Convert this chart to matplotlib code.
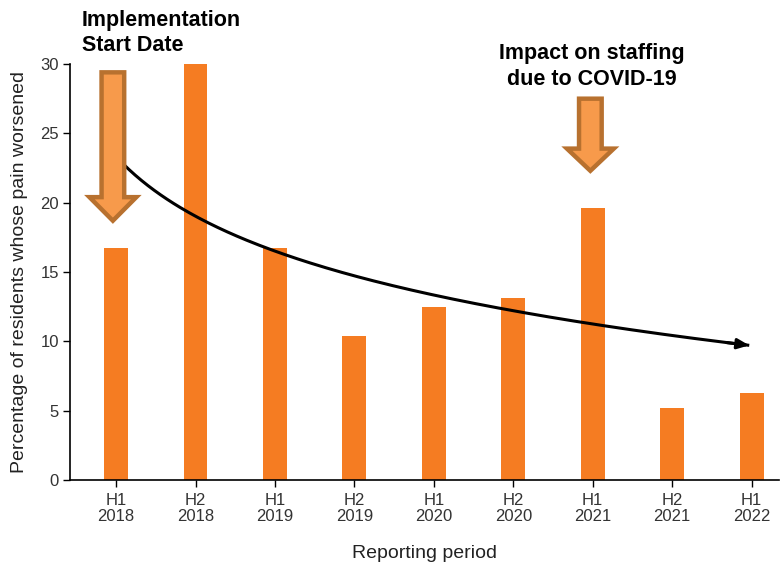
import numpy as np
import matplotlib
matplotlib.use("Agg")
import matplotlib.pyplot as plt
from matplotlib.patches import Polygon

periods = ["H1\n2018", "H2\n2018", "H1\n2019", "H2\n2019", "H1\n2020",
           "H2\n2020", "H1\n2021", "H2\n2021", "H1\n2022"]
pct_worsened = [16.7, 30.0, 16.7, 10.4, 12.5, 13.1, 19.6, 5.2, 6.3]

BAR = "#F57C22"
ARROW_FILL = "#F79A4B"
ARROW_EDGE = "#B8712F"

plt.rcParams["font.family"] = ["Liberation Sans", "DejaVu Sans"]

fig = plt.figure(figsize=(7.81, 5.65), dpi=100)
ax = fig.add_axes([0.0896, 0.1504, 0.9084, 0.7363])

x = np.arange(len(periods))
ax.bar(x, pct_worsened, width=0.3, color=BAR, zorder=2)

# Excel-style logarithmic trend line
t = x + 1
b, a = np.polyfit(np.log(t), pct_worsened, 1)
xs = np.linspace(0, 7.97, 200)
ys = a + b * np.log(xs + 1)
ax.plot(xs, ys, color="black", lw=2.2, zorder=3, solid_capstyle="butt")
ax.annotate("", xy=(xs[-1], ys[-1]), xytext=(xs[-8], ys[-8]),
            arrowprops=dict(arrowstyle="-|>,head_length=0.7,head_width=0.3",
                            color="black", lw=2.2, shrinkA=0, shrinkB=0),
            zorder=3)


def block_arrow(cx, top, head_top, tip, shaft_w=0.285, head_w=0.59):
    pts = [(cx - shaft_w / 2, top), (cx + shaft_w / 2, top),
           (cx + shaft_w / 2, head_top), (cx + head_w / 2, head_top),
           (cx, tip), (cx - head_w / 2, head_top),
           (cx - shaft_w / 2, head_top)]
    ax.add_patch(Polygon(pts, closed=True, facecolor=ARROW_FILL,
                         edgecolor=ARROW_EDGE, lw=3.2, joinstyle="miter",
                         zorder=5, clip_on=False))


block_arrow(-0.04, 29.4, 20.4, 18.7)
block_arrow(5.97, 27.5, 23.9, 22.3)

ax.text(-0.43, 30.55, "Implementation\nStart Date", fontsize=15.5,
        fontweight="bold", ha="left", va="bottom", linespacing=1.28)
ax.text(5.99, 28.15, "Impact on staffing\ndue to COVID-19", fontsize=15.5,
        fontweight="bold", ha="center", va="bottom", linespacing=1.28)

ax.set_xlim(-0.58, 8.35)
ax.set_ylim(0, 30)
ax.set_yticks([0, 5, 10, 15, 20, 25, 30])
ax.set_xticks(x)
ax.set_xticklabels(periods, fontsize=12, linespacing=1.1)
for lab in ax.get_yticklabels():
    lab.set_fontsize(12)
ax.tick_params(axis="both", direction="out", length=5, width=1, colors="black",
               labelcolor="#333333")
ax.tick_params(axis="x", pad=4)
ax.tick_params(axis="y", pad=3)
for s in ["top", "right"]:
    ax.spines[s].set_visible(False)
for s in ["left", "bottom"]:
    ax.spines[s].set_linewidth(1.2)

ax.set_xlabel("Reporting period", fontsize=14, color="#222222", labelpad=15)
ax.set_ylabel("Percentage of residents whose pain worsened", fontsize=14,
              color="#222222", labelpad=9)

fig.savefig("out.png", dpi=100)
